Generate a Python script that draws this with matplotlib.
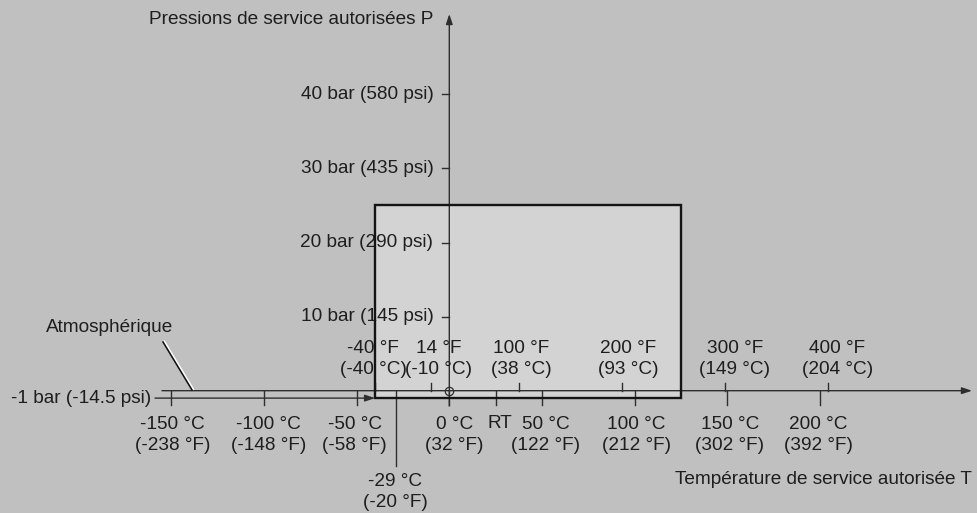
import numpy as np
import matplotlib.pyplot as plt
from matplotlib.patches import Rectangle
import matplotlib.patheffects as pe

# ── colours ────────────────────────────────────────────────────────────
BG = "#C0C0C0"
BOX = "#D3D3D3"
INK = "#1E1E1E"
LINE = "#2E2E2E"

# ── data (temperature in °C, pressure in bar) ──────────────────────────
c_ticks = [-150, -100, -50, 0, 50, 100, 150, 200]
c_labels = ["-150 °C\n(-238 °F)", "-100 °C\n(-148 °F)", "-50 °C\n(-58 °F)",
            "0 °C\n(32 °F)", "50 °C\n(122 °F)", "100 °C\n(212 °F)",
            "150 °C\n(302 °F)", "200 °C\n(392 °F)"]
f_ticks = [-40, -10, 37.8, 93.3, 148.9, 204.4]   # °F marks, placed in °C
f_labels = ["-40 °F\n(-40 °C)", "14 °F\n(-10 °C)", "100 °F\n(38 °C)",
            "200 °F\n(93 °C)", "300 °F\n(149 °C)", "400 °F\n(204 °C)"]
p_ticks = [10, 20, 30, 40]
p_labels = ["10 bar (145 psi)", "20 bar (290 psi)", "30 bar (435 psi)",
            "40 bar (580 psi)"]
rt_temp = 25
t_min_line = -29
box_t = (-40, 125)
box_p = (-1, 25)
p_atm = -1

# label nudges in pixels (layout only)
c_shift = [1, 5, -2, 5, 3.5, 1.5, 2.5, -2]
f_shift = [-2, 7.5, 2, 6, 9.5, 9]

# ── pixel scale of the drawing ─────────────────────────────────────────
W, H = 977, 513
X0, SX = 449.3, 1.854     # px of 0 °C, px per °C
Y0, SY = 390.7, 7.41      # px of 0 bar, px per bar
def dx(px): return px / SX
def dy(px): return px / SY
def T(px): return (px - X0) / SX
def P(py): return (Y0 - py) / SY

plt.rcParams["font.family"] = ["Liberation Sans", "DejaVu Sans"]
FS = 13.7
LS = 1.32

fig = plt.figure(figsize=(W / 100, H / 100), dpi=100, facecolor=BG)
ax = fig.add_axes([0, 0, 1, 1])
ax.set_facecolor(BG)
ax.set_xlim(T(0), T(W))
ax.set_ylim(P(H), P(0))
ax.set_axis_off()

# permitted range
ax.add_patch(Rectangle((box_t[0], box_p[0]), box_t[1] - box_t[0], box_p[1] - box_p[0],
                       facecolor=BOX, edgecolor="none", zorder=1))

arrow = dict(arrowstyle="-|>,head_length=0.6,head_width=0.2", lw=1.0,
             color=LINE, shrinkA=0, shrinkB=0)
# temperature axis
ax.annotate("", xy=(T(972), 0), xytext=(T(162), 0), arrowprops=arrow, zorder=3)
# pressure axis
ax.annotate("", xy=(0, P(14)), xytext=(0, P(406)), arrowprops=arrow, zorder=3)
# -1 bar line
ax.annotate("", xy=(box_t[0], p_atm), xytext=(T(155), p_atm), arrowprops=arrow, zorder=3)

# °C ticks below axis
for t, lab, s in zip(c_ticks, c_labels, c_shift):
    ax.plot([t, t], [0, -dy(14.5)], color=LINE, lw=1.0, zorder=3)
    ax.text(t + dx(s), P(435), lab, ha="center", va="center", fontsize=FS,
            color=INK, linespacing=LS)
ax.plot([rt_temp, rt_temp], [0, -dy(14.5)], color=LINE, lw=1.0, zorder=3)
ax.text(rt_temp + dx(4.5), P(423.5), "RT", ha="center", va="center", fontsize=FS, color=INK)

# °F ticks above axis
for t, lab, s in zip(f_ticks, f_labels, f_shift):
    ax.plot([t, t], [0, dy(8)], color=LINE, lw=1.0, zorder=3)
    ax.text(t + dx(s), P(359), lab, ha="center", va="center", fontsize=FS,
            color=INK, linespacing=LS)

# pressure ticks
for p, lab in zip(p_ticks, p_labels):
    ax.plot([-dx(7), 0], [p, p], color=LINE, lw=1.0, zorder=3)
    ax.text(-dx(16), p, lab, ha="right", va="center", fontsize=FS, color=INK, zorder=4)

# minimum temperature marker
ax.plot([t_min_line, t_min_line], [0, P(466)], color=LINE, lw=1.0, zorder=3)
ax.text(t_min_line, P(492), "-29 °C\n(-20 °F)", ha="center", va="center",
        fontsize=FS, color=INK, linespacing=LS)

# box outline
ax.add_patch(Rectangle((box_t[0], box_p[0]), box_t[1] - box_t[0], box_p[1] - box_p[0],
                       facecolor="none", edgecolor="#141414", lw=1.7, zorder=4))

# origin circle
ax.plot([0], [0], marker="o", ms=6, mfc="none", mec=LINE, mew=0.9, zorder=5)

# atmospheric leader
ax.plot([T(163), T(192)], [P(342), P(390)], color="#111111", lw=1.1, zorder=3,
        path_effects=[pe.SimpleLineShadow(offset=(1.0, 0.6), shadow_color="white",
                                          alpha=1.0, rho=1.0), pe.Normal()])
ax.text(T(110), P(327), "Atmosphérique", ha="center", va="center", fontsize=FS, color=INK)
ax.text(T(151), p_atm, "-1 bar (-14.5 psi)", ha="right", va="center", fontsize=FS, color=INK)

# axis titles
ax.text(T(433), P(20), "Pressions de service autorisées P", ha="right", va="center",
        fontsize=FS, color=INK)
ax.text(T(972), P(480), "Température de service autorisée T", ha="right", va="center",
        fontsize=FS, color=INK)

fig.savefig("out.png", dpi=100, facecolor=BG)
